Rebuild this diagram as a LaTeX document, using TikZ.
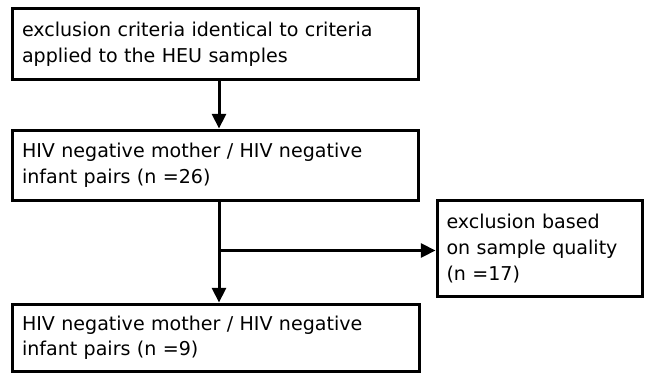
\documentclass[tikz,border=0pt]{standalone}
\usepackage{fontspec}
\setmainfont{DejaVu Sans}
\usetikzlibrary{arrows.meta}
\begin{document}
\begin{tikzpicture}[x=0.75pt,y=-0.75pt,
  box/.style={draw=black, line width=2.25pt, fill=white, inner xsep=6pt, inner ysep=2pt,
    align=left, anchor=center,
    font=\fontsize{14.3pt}{19.3pt}\selectfont},
  arr/.style={line width=2.25pt, -{Triangle[width=10.5pt,length=11pt]}}]
\useasboundingbox (0,0) rectangle (645,375);
\node[box, minimum width=405.5*0.75pt, minimum height=71*0.75pt, text width=405.5*0.75pt-12pt-2.25pt]
  (b1) at (215.25,44) {exclusion criteria identical to criteria\\applied to the HEU samples};
\node[box, minimum width=406*0.75pt, minimum height=70.5*0.75pt, text width=406*0.75pt-12pt-2.25pt]
  (b2) at (215.5,165.25) {HIV negative mother / HIV negative\\infant pairs (n =26)};
\node[box, minimum width=205*0.75pt, minimum height=96*0.75pt, text width=205*0.75pt-12pt-2.25pt]
  (b3) at (539.5,248.5) {exclusion based\\on sample quality\\(n =17)};
\node[box, minimum width=407*0.75pt, minimum height=67.5*0.75pt, text width=407*0.75pt-12pt-2.25pt]
  (b4) at (216,337.75) {HIV negative mother / HIV negative\\infant pairs (n =9)};
\coordinate (ax) at (219,0);
\coordinate (br) at (219,250.5);
\draw[arr] (b1.south -| ax) -- (b2.north -| ax);
\draw[arr] (b2.south -| ax) -- (b4.north -| ax);
\draw[arr] (br) -- (b3.west |- br);
\end{tikzpicture}
\end{document}
